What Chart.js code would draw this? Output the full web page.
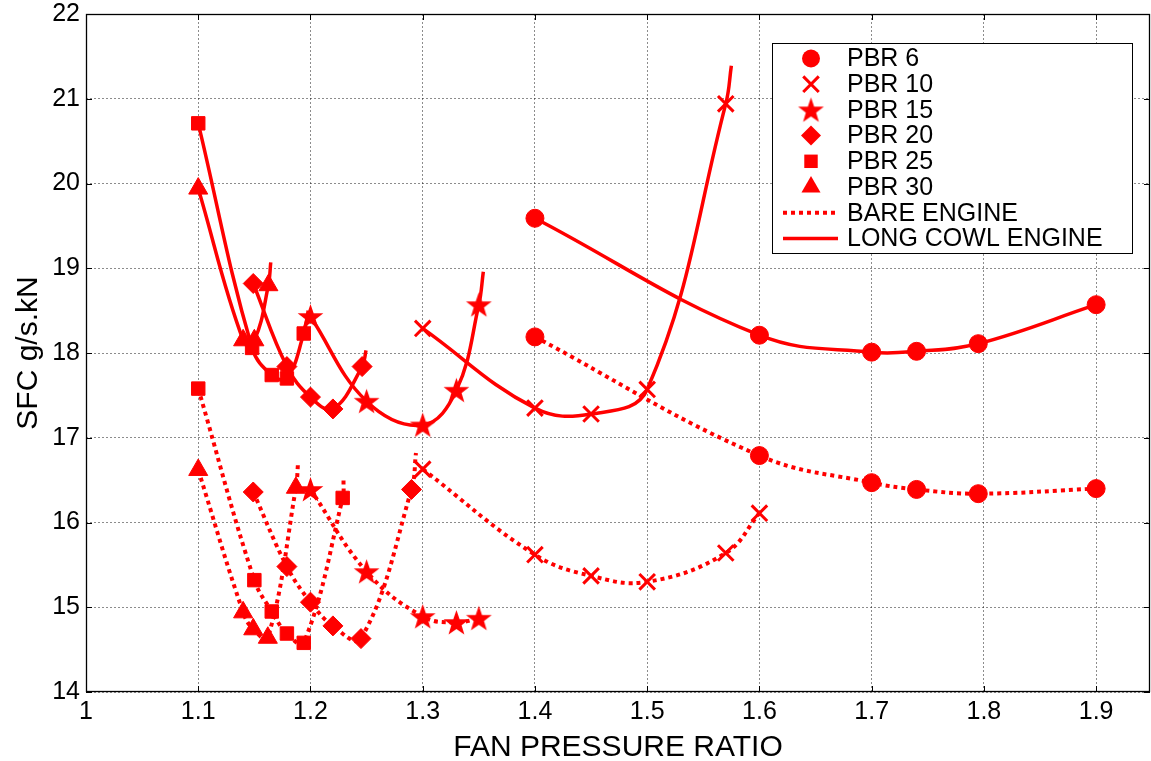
<!DOCTYPE html>
<html><head><meta charset="utf-8">
<script src="https://cdn.jsdelivr.net/npm/chart.js@4.4.1/dist/chart.umd.min.js"></script>
<style>html,body{margin:0;padding:0;background:#fff;}#wrap{width:1151px;height:761px;position:relative;}</style>
</head><body><div id="wrap"><canvas id="c" width="1151" height="761"></canvas></div>
<script>
// ---- data ----
const xTicks = [1, 1.1, 1.2, 1.3, 1.4, 1.5, 1.6, 1.7, 1.8, 1.9];
const xTickLabels = ['1', '1.1', '1.2', '1.3', '1.4', '1.5', '1.6', '1.7', '1.8', '1.9'];
const yTicks = [14, 15, 16, 17, 18, 19, 20, 21, 22];
const yTickLabels = ['14', '15', '16', '17', '18', '19', '20', '21', '22'];
const legendLabels = ['PBR 6', 'PBR 10', 'PBR 15', 'PBR 20', 'PBR 25', 'PBR 30', 'BARE ENGINE', 'LONG COWL ENGINE'];

const pbr6_cowl_fpr = [1.4, 1.6, 1.7, 1.74, 1.795, 1.9];
const pbr6_cowl_sfc = [19.59, 18.21, 18.01, 18.02, 18.11, 18.57];
const pbr6_bare_fpr = [1.4, 1.6, 1.7, 1.74, 1.795, 1.9];
const pbr6_bare_sfc = [18.19, 16.79, 16.47, 16.39, 16.34, 16.40];

const pbr10_cowl_fpr = [1.3, 1.4, 1.45, 1.5, 1.57];
const pbr10_cowl_sfc = [18.29, 17.35, 17.28, 17.57, 20.94];
const pbr10_cowl_end = [1.575, 21.39];
const pbr10_bare_fpr = [1.3, 1.4, 1.45, 1.5, 1.57, 1.6];
const pbr10_bare_sfc = [16.63, 15.62, 15.37, 15.30, 15.64, 16.11];

const pbr15_cowl_fpr = [1.2, 1.25, 1.3, 1.33, 1.35];
const pbr15_cowl_sfc = [18.43, 17.43, 17.15, 17.56, 18.57];
const pbr15_cowl_end = [1.354, 18.96];
const pbr15_bare_fpr = [1.2, 1.25, 1.3, 1.33, 1.35];
const pbr15_bare_sfc = [16.39, 15.42, 14.89, 14.82, 14.87];

const pbr20_cowl_fpr = [1.149, 1.179, 1.2, 1.22, 1.246];
const pbr20_cowl_sfc = [18.82, 17.84, 17.48, 17.34, 17.84];
const pbr20_cowl_end = [1.2495, 18.03];
const pbr20_bare_fpr = [1.149, 1.179, 1.2, 1.22, 1.245, 1.29];
const pbr20_bare_sfc = [16.36, 15.48, 15.06, 14.78, 14.63, 16.39];
const pbr20_bare_end = [1.294, 16.82];

const pbr25_cowl_fpr = [1.1, 1.148, 1.1655, 1.179, 1.194];
const pbr25_cowl_sfc = [20.71, 18.06, 17.74, 17.70, 18.23];
const pbr25_cowl_end = [1.198, 18.5];
const pbr25_bare_fpr = [1.1, 1.15, 1.1655, 1.179, 1.194, 1.2287];
const pbr25_bare_sfc = [17.58, 15.32, 14.95, 14.69, 14.58, 16.29];
const pbr25_bare_end = [1.2295, 16.51];

const pbr30_cowl_fpr = [1.1, 1.14, 1.15, 1.1625];
const pbr30_cowl_sfc = [19.94, 18.15, 18.15, 18.80];
const pbr30_cowl_end = [1.1646, 19.07];
const pbr30_bare_fpr = [1.1, 1.14, 1.149, 1.162, 1.187];
const pbr30_bare_sfc = [16.62, 14.94, 14.74, 14.64, 16.41];
const pbr30_bare_end = [1.189, 16.72];

// ---- styling ----
const RED = '#ff0000';
const FONT = "'Liberation Sans', Arial, sans-serif";

function makeStar(R) {
  const c = document.createElement('canvas');
  const s = Math.ceil(R * 2 + 2);
  c.width = s; c.height = s;
  const g = c.getContext('2d');
  const r = R * 0.4;
  g.beginPath();
  for (let i = 0; i < 10; i++) {
    const rr = i % 2 === 0 ? R : r;
    const a = -Math.PI / 2 + i * Math.PI / 5;
    const px = s / 2 + rr * Math.cos(a), py = s / 2 + 1 + rr * Math.sin(a);
    if (i === 0) g.moveTo(px, py); else g.lineTo(px, py);
  }
  g.closePath();
  g.fillStyle = RED;
  g.fill();
  return c;
}
const starImg = makeStar(13.5);

const markers = [
  { style: 'circle', r: 9, bw: 1 },
  { style: 'crossRot', r: 11, bw: 3 },
  { style: starImg, r: 13, bw: 0 },
  { style: 'rectRot', r: 10, bw: 1 },
  { style: 'rect', r: 9.5, bw: 1 },
  { style: 'triangle', r: 11, bw: 1 }
];

function pts(fpr, sfc, end) {
  const p = fpr.map((x, i) => ({ x: x, y: sfc[i] }));
  if (end) p.push({ x: end[0], y: end[1] });
  return p;
}

const seriesList = [
  [pbr6_bare_fpr, pbr6_bare_sfc, null, pbr6_cowl_fpr, pbr6_cowl_sfc, null],
  [pbr10_bare_fpr, pbr10_bare_sfc, null, pbr10_cowl_fpr, pbr10_cowl_sfc, pbr10_cowl_end],
  [pbr15_bare_fpr, pbr15_bare_sfc, null, pbr15_cowl_fpr, pbr15_cowl_sfc, pbr15_cowl_end],
  [pbr20_bare_fpr, pbr20_bare_sfc, pbr20_bare_end, pbr20_cowl_fpr, pbr20_cowl_sfc, pbr20_cowl_end],
  [pbr25_bare_fpr, pbr25_bare_sfc, pbr25_bare_end, pbr25_cowl_fpr, pbr25_cowl_sfc, pbr25_cowl_end],
  [pbr30_bare_fpr, pbr30_bare_sfc, pbr30_bare_end, pbr30_cowl_fpr, pbr30_cowl_sfc, pbr30_cowl_end]
];

const datasets = [];
seriesList.forEach((s, k) => {
  const m = markers[k];
  const mk = (fpr, sfc, end, dotted, label) => {
    const n = fpr.length;
    datasets.push({
      label: label,
      data: pts(fpr, sfc, end),
      borderColor: RED,
      backgroundColor: RED,
      borderWidth: dotted ? 4 : 3.5,
      borderDash: dotted ? [4, 4] : [],
      borderCapStyle: 'butt',
      tension: 0.4,
      pointStyle: m.style,
      pointRadius: ctx => ctx.dataIndex < n ? m.r : 0,
      pointBorderWidth: m.bw,
      pointBorderColor: RED,
      pointBackgroundColor: RED,
      showLine: true,
      fill: false
    });
  };
  mk(s[0], s[1], s[2], true, legendLabels[k] + ' bare');
  mk(s[3], s[4], s[5], false, legendLabels[k] + ' cowl');
});

const frame = {
  id: 'frame',
  afterDraw(chart) {
    const ctx = chart.ctx, a = chart.chartArea;
    const xs = chart.scales.x, ys = chart.scales.y;
    ctx.save();
    ctx.strokeStyle = '#000';
    ctx.lineWidth = 1.3;
    ctx.strokeRect(a.left + 0.5, a.top + 0.5, a.right - a.left - 1, a.bottom - a.top - 1);
    ctx.lineWidth = 1;
    ctx.beginPath();
    xTicks.forEach(v => {
      const px = Math.round(xs.getPixelForValue(v)) + 0.5;
      ctx.moveTo(px, a.bottom); ctx.lineTo(px, a.bottom - 6);
      ctx.moveTo(px, a.top); ctx.lineTo(px, a.top + 6);
    });
    yTicks.forEach(v => {
      const py = Math.round(ys.getPixelForValue(v)) + 0.5;
      ctx.moveTo(a.left, py); ctx.lineTo(a.left + 6, py);
      ctx.moveTo(a.right, py); ctx.lineTo(a.right - 6, py);
    });
    ctx.stroke();

    // legend
    const L = 772, T = 43, W = 360, H = 210;
    ctx.fillStyle = '#fff';
    ctx.fillRect(L, T, W, H);
    ctx.strokeStyle = '#000';
    ctx.lineWidth = 1;
    ctx.strokeRect(L + 0.5, T + 0.5, W, H);
    const rowY = i => T + 15.5 + i * 25.7;
    const mx = 811, tx = 847;
    ctx.font = '25px ' + FONT;
    ctx.textBaseline = 'middle';
    ctx.textAlign = 'left';
    legendLabels.forEach((lab, i) => {
      const y = rowY(i);
      ctx.fillStyle = '#000';
      ctx.fillText(lab, tx, y + 1);
      ctx.fillStyle = RED; ctx.strokeStyle = RED;
      ctx.setLineDash([]);
      if (i < 6) {
        const m = markers[i];
        ctx.beginPath();
        if (i === 0) { ctx.arc(mx, y, m.r, 0, Math.PI * 2); ctx.fill(); }
        else if (i === 1) { const d = m.r * Math.SQRT1_2; ctx.lineWidth = 3; ctx.moveTo(mx - d, y - d); ctx.lineTo(mx + d, y + d); ctx.moveTo(mx + d, y - d); ctx.lineTo(mx - d, y + d); ctx.stroke(); }
        else if (i === 2) { ctx.drawImage(starImg, mx - starImg.width / 2, y - starImg.height / 2); }
        else if (i === 3) { const d = m.r; ctx.moveTo(mx, y - d); ctx.lineTo(mx + d, y); ctx.lineTo(mx, y + d); ctx.lineTo(mx - d, y); ctx.closePath(); ctx.fill(); }
        else if (i === 4) { const d = m.r * Math.SQRT1_2; ctx.fillRect(mx - d, y - d, 2 * d, 2 * d); }
        else { const d = m.r; ctx.moveTo(mx, y - d); ctx.lineTo(mx + d * Math.sin(2 * Math.PI / 3), y - d * Math.cos(2 * Math.PI / 3)); ctx.lineTo(mx - d * Math.sin(2 * Math.PI / 3), y - d * Math.cos(2 * Math.PI / 3)); ctx.closePath(); ctx.fill(); }
      } else {
        ctx.beginPath();
        ctx.lineWidth = i === 6 ? 4 : 3.5;
        ctx.lineCap = 'butt';
        ctx.setLineDash(i === 6 ? [4, 4] : []);
        ctx.moveTo(783, y); ctx.lineTo(838, y);
        ctx.stroke();
        ctx.setLineDash([]);
      }
    });
    ctx.restore();
  }
};

new Chart(document.getElementById('c'), {
  type: 'scatter',
  data: { datasets: datasets },
  options: {
    responsive: false,
    animation: false,
    events: [],
    layout: { autoPadding: false, padding: { top: 14, right: 1, left: 0, bottom: 0 } },
    plugins: { legend: { display: false }, tooltip: { enabled: false } },
    scales: {
      x: {
        type: 'linear', min: 1, max: 1.948,
        afterBuildTicks: s => { s.ticks = xTicks.map(v => ({ value: v })); },
        afterFit: s => { s.height = 69; s.paddingLeft = 0; s.paddingRight = 0; },
        ticks: { callback: (v, i) => xTickLabels[i], font: { family: FONT, size: 25 }, color: '#000', padding: 5, maxRotation: 0, autoSkip: false },
        grid: { color: 'rgba(0,0,0,0.45)', lineWidth: 1, drawTicks: false },
        border: { display: false, dash: [2, 2] },
        title: { display: true, text: 'FAN PRESSURE RATIO', font: { family: FONT, size: 30 }, color: '#000', padding: { top: 0, bottom: -5 } }
      },
      y: {
        type: 'linear', min: 14, max: 22,
        afterBuildTicks: s => { s.ticks = yTicks.map(v => ({ value: v })); },
        afterFit: s => { s.width = 86; s.paddingTop = 0; s.paddingBottom = 0; },
        ticks: { callback: (v, i) => yTickLabels[i], font: { family: FONT, size: 25 }, color: '#000', padding: 6, autoSkip: false },
        grid: { color: 'rgba(0,0,0,0.45)', lineWidth: 1, drawTicks: false },
        border: { display: false, dash: [2, 2] },
        title: { display: true, text: 'SFC g/s.kN', font: { family: FONT, size: 30 }, color: '#000', padding: { top: 11, bottom: 0 } }
      }
    }
  },
  plugins: [frame]
});
</script>
</body></html>
